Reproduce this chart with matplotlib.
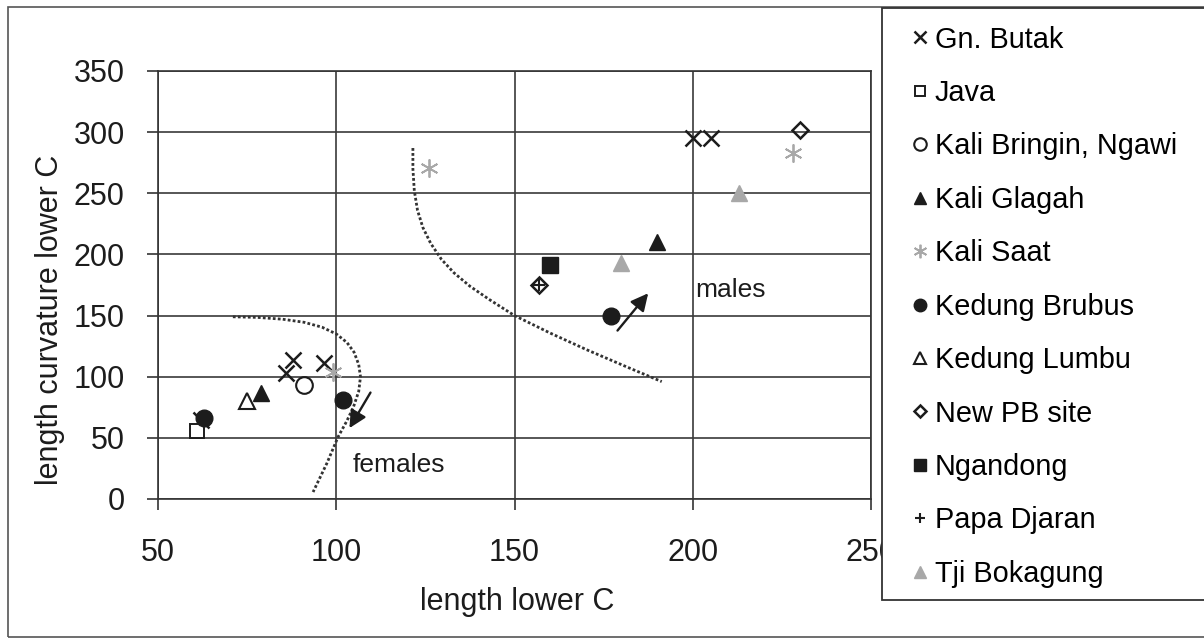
import matplotlib
matplotlib.use("Agg")
import matplotlib.pyplot as plt
from matplotlib.lines import Line2D
from matplotlib.patches import Rectangle

plt.rcParams["font.family"] = ["Liberation Sans", "DejaVu Sans"]

OUT = "out.png"

# canine measurements per site: (length lower C, length curvature lower C)
gn_butak_x = [88, 86, 96.5, 200, 205, 62]
gn_butak_y = [114, 103, 111, 295, 295, 65]
java_x = [61]
java_y = [56]
kali_bringin_x = [91]
kali_bringin_y = [93]
kali_glagah_x = [79, 190]
kali_glagah_y = [87, 210]
kali_saat_x = [99, 126, 228]
kali_saat_y = [104, 271, 283]
kedung_brubus_x = [63, 102, 177]
kedung_brubus_y = [66, 81, 150]
kedung_lumbu_x = [75]
kedung_lumbu_y = [80]
new_pb_x = [157, 230]
new_pb_y = [175, 302]
ngandong_x = [160]
ngandong_y = [191]
papa_djaran_x = [157]
papa_djaran_y = [175]
tji_bokagung_x = [180, 213]
tji_bokagung_y = [193, 250]

# hand-drawn separation curves
female_curve_x = [71, 78, 85, 91, 96, 100, 103, 105, 106.3, 106.8, 106.3, 104.8,
                  103, 100.5, 97.4, 93.5]
female_curve_y = [149, 148.5, 147, 144.5, 140.5, 135, 128, 120, 110, 100, 88, 75,
                  64, 50.7, 29.4, 5.7]
male_curve_x = [121.5, 121.5, 121.9, 122.8, 124.3, 126.5, 129.5, 133, 137.5, 143,
                150, 160, 170.3, 181.5, 191.3]
male_curve_y = [287, 270, 252, 236, 222, 209, 196, 185, 174, 163,
                150, 135.7, 122, 108, 96]

x_ticks = [50, 100, 150, 200, 250]
y_ticks = [0, 50, 100, 150, 200, 250, 300, 350]

INK = "#1c1c1c"
GREY = "#a8a8a8"

series = [
    ("Gn. Butak", gn_butak_x, gn_butak_y, dict(marker="x", color=INK, ms=11, mew=1.8)),
    ("Java", java_x, java_y, dict(marker="s", mfc="white", mec=INK, ms=10, mew=1.4)),
    ("Kali Bringin, Ngawi", kali_bringin_x, kali_bringin_y,
     dict(marker="o", mfc="white", mec=INK, ms=12, mew=1.5)),
    ("Kali Glagah", kali_glagah_x, kali_glagah_y, dict(marker="^", color=INK, ms=11)),
    ("Kali Saat", kali_saat_x, kali_saat_y, dict(marker=(6, 2, 0), color=GREY, ms=13, mew=1.3)),
    ("Kedung Brubus", kedung_brubus_x, kedung_brubus_y, dict(marker="o", color=INK, ms=12)),
    ("Kedung Lumbu", kedung_lumbu_x, kedung_lumbu_y,
     dict(marker="^", mfc="white", mec=INK, ms=11, mew=1.5)),
    ("New PB site", new_pb_x, new_pb_y, dict(marker="D", mfc="none", mec=INK, ms=8, mew=1.8)),
    ("Ngandong", ngandong_x, ngandong_y, dict(marker="s", color=INK, ms=11)),
    ("Papa Djaran", papa_djaran_x, papa_djaran_y, dict(marker="+", color=INK, ms=9, mew=1.5)),
    ("Tji Bokagung", tji_bokagung_x, tji_bokagung_y, dict(marker="^", color=GREY, ms=11)),
]

fig = plt.figure(figsize=(12.04, 6.44), dpi=100)
ax = fig.add_axes([158 / 1204, 1 - 499 / 644, 713 / 1204, 428 / 644])

# outer chart border
fig.patches.append(Rectangle((8 / 1204, 7 / 644), 1.0, 630 / 644, transform=fig.transFigure,
                             fill=False, edgecolor="#555555", lw=1.2, zorder=0))

ax.plot(female_curve_x, female_curve_y, ls=(0, (1, 0.8)), color="#333333", lw=2, zorder=2)
ax.plot(male_curve_x, male_curve_y, ls=(0, (1, 0.8)), color="#333333", lw=2, zorder=2)

handles = []
for name, xs, ys, style in series:
    ax.plot(xs, ys, ls="none", zorder=3, **style)
    small = dict(style)
    small["ms"] = style["ms"] * 0.75
    handles.append(Line2D([], [], ls="none", label=name, **small))

ax.annotate("", xy=(103.3, 56), xytext=(110, 89),
            arrowprops=dict(arrowstyle="-|>", color=INK, lw=1.7, mutation_scale=26))
ax.annotate("", xy=(188, 170), xytext=(178.4, 136),
            arrowprops=dict(arrowstyle="-|>", color=INK, lw=1.7, mutation_scale=26))
ax.text(104.7, 28, "females", fontsize=19, color=INK, va="center", ha="left")
ax.text(200.6, 171, "males", fontsize=19, color=INK, va="center", ha="left")

ax.set_xlim(50, 250)
ax.set_ylim(0, 350)
ax.set_xticks(x_ticks)
ax.set_yticks(y_ticks)
ax.tick_params(direction="out", length=8, width=1.2, color="#333333",
               labelsize=22, labelcolor=INK)
ax.tick_params(axis="x", pad=20)
ax.tick_params(axis="y", pad=16)
ax.grid(True, color="#3a3a3a", lw=1.2)
ax.set_axisbelow(True)
for sp in ax.spines.values():
    sp.set_color("#333333")
    sp.set_linewidth(1.2)

ax.set_xlabel("length lower C", fontsize=22, color=INK)
ax.set_ylabel("length curvature lower C", fontsize=22, color=INK)
ax.xaxis.label.set_va("center")
ax.yaxis.label.set_va("center")
ax.xaxis.set_label_coords(0.504, -0.24)
ax.yaxis.set_label_coords(-0.152, 0.418)

# legend box sits over the right edge of the plot
fig.patches.append(Rectangle((882 / 1204, 44 / 644), 1.0, 592 / 644, transform=fig.transFigure,
                             facecolor="white", edgecolor="#333333", lw=1.3, zorder=5))
leg = fig.legend(handles=handles, loc="upper left", bbox_to_anchor=(900 / 1204, 1 - 14 / 644),
                 frameon=False, fontsize=20.8, handlelength=0.6, handletextpad=0.2,
                 labelspacing=0.88, borderaxespad=0)
leg.set_zorder(6)

fig.savefig(OUT, dpi=100, facecolor="white")
